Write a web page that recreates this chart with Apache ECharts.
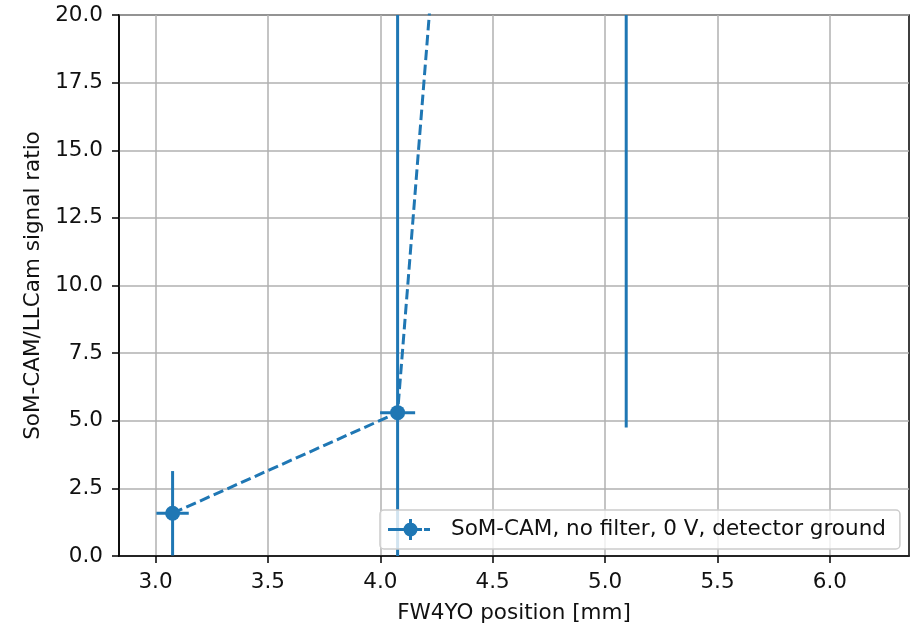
<!DOCTYPE html>
<html>
<head>
<meta charset="utf-8">
<script src="https://cdn.jsdelivr.net/npm/echarts@6/dist/echarts.min.js"></script>
<style>
  html, body { margin: 0; padding: 0; background: #fff; }
  #chart { width: 915px; height: 629px; }
</style>
</head>
<body>
<div id="chart"></div>
<script>
// ---- data ----
const seriesName = 'SoM-CAM, no filter, 0 V, detector ground';
const xValues = [3.076, 4.077, 5.094];
const yValues = [1.58, 5.30, 111.4];
const xErrors = [0.072, 0.078, 0.078];
const yErrors = [1.56, 20.0, 106.65];
const xTickValues = [3.0, 3.5, 4.0, 4.5, 5.0, 5.5, 6.0];
const yTickValues = [0.0, 2.5, 5.0, 7.5, 10.0, 12.5, 15.0, 17.5, 20.0];
const xLabel = 'FW4YO position [mm]';
const yLabel = 'SoM-CAM/LLCam signal ratio';

const COLOR = '#1f77b4';
const FONT = 'DejaVu Sans';
const FS = 21.5;

const pointData = xValues.map((x, i) => [x, yValues[i]]);
const errData = xValues.map((x, i) => [x, yValues[i], xErrors[i], yErrors[i]]);

const legendIcon = 'path://M0 9h34v3h-34z M36 9h6v3h-6z M21 0h3v21h-3z M29.5 10.5a7 7 0 1 1 -14 0a7 7 0 1 1 14 0z';

const chart = echarts.init(document.getElementById('chart'), null, { renderer: 'canvas' });

const option = {
  animation: false,
  backgroundColor: '#ffffff',
  grid: {
    left: 119, right: 6, top: 15, bottom: 71,
    show: true, borderColor: '#000', borderWidth: 1.5, backgroundColor: 'transparent'
  },
  xAxis: {
    type: 'value',
    min: 2.8376,
    max: 6.352,
    name: xLabel,
    nameLocation: 'middle',
    nameGap: 46,
    nameTextStyle: { fontFamily: FONT, fontSize: FS, color: '#111' },
    axisLine: { show: true, onZero: false, lineStyle: { color: '#000', width: 1.5 } },
    axisTick: { show: true, inside: false, length: 7, customValues: xTickValues, lineStyle: { color: '#000', width: 1.5 } },
    axisLabel: {
      customValues: xTickValues, margin: 15,
      fontFamily: FONT, fontSize: FS, color: '#111',
      formatter: v => Number(v).toFixed(1)
    },
    splitLine: { show: true, lineStyle: { color: '#b0b0b0', width: 1.5 } }
  },
  yAxis: {
    type: 'value',
    min: 0, max: 20, interval: 2.5,
    name: yLabel,
    nameLocation: 'middle',
    nameGap: 67,
    nameTextStyle: { fontFamily: FONT, fontSize: FS, color: '#111' },
    axisLine: { show: true, onZero: false, lineStyle: { color: '#000', width: 1.5 } },
    axisTick: { show: true, inside: false, length: 7, lineStyle: { color: '#000', width: 1.5 } },
    axisLabel: {
      margin: 16,
      fontFamily: FONT, fontSize: FS, color: '#111',
      formatter: v => Number(v).toFixed(1)
    },
    splitLine: { show: true, lineStyle: { color: '#b0b0b0', width: 1.5 } }
  },
  legend: {
    left: 380, top: 510,
    orient: 'horizontal',
    padding: [8.5, 14, 8.5, 8],
    backgroundColor: 'rgba(255,255,255,0.8)',
    borderColor: '#cccccc', borderWidth: 1.5, borderRadius: 4,
    itemWidth: 42, itemHeight: 21,
    data: [{ name: seriesName, icon: legendIcon }],
    itemStyle: { color: COLOR, borderWidth: 0 },
    textStyle: { fontFamily: FONT, fontSize: FS, color: '#111', padding: [0, 0, 0, 16] },
    selectedMode: false,
    z: 10
  },
  series: [
    {
      name: 'errorbars',
      type: 'custom',
      clip: true,
      z: 3,
      data: errData,
      renderItem: function (params, api) {
        const x = api.value(0), y = api.value(1), xe = api.value(2), ye = api.value(3);
        const left = api.coord([x - xe, y]);
        const right = api.coord([x + xe, y]);
        const bottom = api.coord([x, y - ye]);
        const top = api.coord([x, y + ye]);
        const style = { stroke: COLOR, lineWidth: 3, fill: null };
        return {
          type: 'group',
          children: [
            { type: 'line', shape: { x1: left[0], y1: left[1], x2: right[0], y2: right[1] }, style: style },
            { type: 'line', shape: { x1: bottom[0], y1: bottom[1], x2: top[0], y2: top[1] }, style: style }
          ]
        };
      }
    },
    {
      name: seriesName,
      type: 'line',
      clip: true,
      z: 4,
      data: pointData,
      symbol: 'circle',
      symbolSize: 15,
      showAllSymbol: true,
      itemStyle: { color: COLOR, borderWidth: 0 },
      lineStyle: { color: COLOR, width: 3, type: [10.5, 4.5] }
    }
  ]
};

chart.setOption(option);
</script>
</body>
</html>
